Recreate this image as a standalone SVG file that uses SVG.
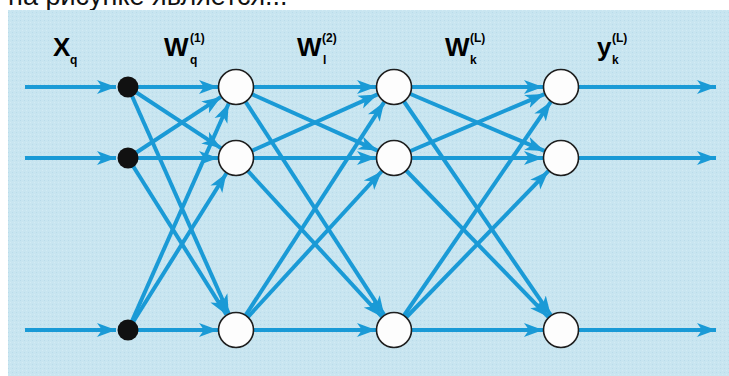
<svg xmlns="http://www.w3.org/2000/svg" width="729" height="376" viewBox="0 0 729 376">
  <style>
    .edge { stroke: #1a9ad6; stroke-width: 4; fill: none; marker-end: url(#head); }
    .neuron { fill: #fdfdfd; stroke: #1e1e1e; stroke-width: 1.6; }
    .input { fill: #111111; }
    .lbl { font-family: "Liberation Sans", Arial, sans-serif; font-weight: bold; fill: #000; }
    .big { font-size: 26px; }
    .small { font-size: 12px; }
    .caption { font-family: "Liberation Sans", Arial, sans-serif; font-size: 27px; fill: #111; }
  </style>
  <defs>
    <marker id="head" markerUnits="userSpaceOnUse" markerWidth="20" markerHeight="16" refX="19" refY="8" orient="auto">
      <path d="M0,1 L19,8 L0,15 L5,8 Z" fill="#1a9ad6"/>
    </marker>
    <pattern id="grain" width="4" height="4" patternUnits="userSpaceOnUse">
      <rect width="4" height="4" fill="#c8e5f0"/>
      <rect x="0" y="0" width="1" height="1" fill="#b9dbea"/>
      <rect x="2" y="2" width="1" height="1" fill="#d3ebf4"/>
    </pattern>
  </defs>

  <rect width="729" height="376" fill="#ffffff"/>
  <text class="caption" x="8" y="5">на рисунке является...</text>
  <rect x="8" y="10" width="721" height="366" fill="url(#grain)"/>

  <!-- layer labels -->
  <g id="labels">
    <text class="lbl big" x="53" y="56">X</text>
    <text class="lbl small" x="70" y="64">q</text>

    <text class="lbl big" x="164" y="56">W</text>
    <text class="lbl small" x="190" y="42">(1)</text>
    <text class="lbl small" x="190" y="64">q</text>

    <text class="lbl big" x="297" y="56">W</text>
    <text class="lbl small" x="322" y="42">(2)</text>
    <text class="lbl small" x="323" y="64">l</text>

    <text class="lbl big" x="445" y="56">W</text>
    <text class="lbl small" x="470" y="42">(L)</text>
    <text class="lbl small" x="470" y="64">k</text>

    <text class="lbl big" x="597" y="56">y</text>
    <text class="lbl small" x="612" y="42">(L)</text>
    <text class="lbl small" x="612" y="64">k</text>
  </g>

  <g id="connectors">
    <!-- external inputs -->
    <line class="edge" x1="25" y1="87" x2="116" y2="87"/>
    <line class="edge" x1="25" y1="158" x2="116" y2="158"/>
    <line class="edge" x1="25" y1="330" x2="116" y2="330"/>

    <!-- inputs to layer 1 -->
    <line class="edge" x1="128" y1="87" x2="218" y2="87"/>
    <line class="edge" x1="128" y1="87" x2="220.96" y2="148.11"/>
    <line class="edge" x1="128" y1="87" x2="228.69" y2="313.55"/>
    <line class="edge" x1="128" y1="158" x2="220.96" y2="96.89"/>
    <line class="edge" x1="128" y1="158" x2="218" y2="158"/>
    <line class="edge" x1="128" y1="158" x2="226.43" y2="314.76"/>
    <line class="edge" x1="128" y1="330" x2="228.69" y2="103.45"/>
    <line class="edge" x1="128" y1="330" x2="226.43" y2="173.24"/>
    <line class="edge" x1="128" y1="330" x2="218" y2="330"/>

    <!-- layer 1 to layer 2 -->
    <line class="edge" x1="236" y1="87" x2="376" y2="87"/>
    <line class="edge" x1="236" y1="87" x2="377.58" y2="150.62"/>
    <line class="edge" x1="236" y1="87" x2="384.19" y2="314.91"/>
    <line class="edge" x1="236" y1="158" x2="377.58" y2="94.38"/>
    <line class="edge" x1="236" y1="158" x2="376" y2="158"/>
    <line class="edge" x1="236" y1="158" x2="381.82" y2="316.74"/>
    <line class="edge" x1="236" y1="330" x2="384.19" y2="102.09"/>
    <line class="edge" x1="236" y1="330" x2="381.82" y2="171.26"/>
    <line class="edge" x1="236" y1="330" x2="376" y2="330"/>

    <!-- layer 2 to layer 3 -->
    <line class="edge" x1="394" y1="87" x2="543" y2="87"/>
    <line class="edge" x1="394" y1="87" x2="544.44" y2="150.96"/>
    <line class="edge" x1="394" y1="87" x2="550.81" y2="315.17"/>
    <line class="edge" x1="394" y1="158" x2="544.44" y2="94.04"/>
    <line class="edge" x1="394" y1="158" x2="543" y2="158"/>
    <line class="edge" x1="394" y1="158" x2="548.46" y2="317.09"/>
    <line class="edge" x1="394" y1="330" x2="550.81" y2="101.83"/>
    <line class="edge" x1="394" y1="330" x2="548.46" y2="170.91"/>
    <line class="edge" x1="394" y1="330" x2="543" y2="330"/>

    <!-- outputs -->
    <line class="edge" x1="561" y1="87" x2="716" y2="87"/>
    <line class="edge" x1="561" y1="158" x2="716" y2="158"/>
    <line class="edge" x1="561" y1="330" x2="716" y2="330"/>
  </g>

  <!-- input distribution points -->
  <g id="in1"><circle class="input" cx="128" cy="87" r="10.5"/></g>
  <g id="in2"><circle class="input" cx="128" cy="158" r="10.5"/></g>
  <g id="in3"><circle class="input" cx="128" cy="330" r="10.5"/></g>

  <!-- layer 1 -->
  <g id="a1"><circle class="neuron" cx="236" cy="87" r="17.5"/></g>
  <g id="a2"><circle class="neuron" cx="236" cy="158" r="17.5"/></g>
  <g id="a3"><circle class="neuron" cx="236" cy="330" r="17.5"/></g>

  <!-- layer 2 -->
  <g id="b1"><circle class="neuron" cx="394" cy="87" r="17.5"/></g>
  <g id="b2"><circle class="neuron" cx="394" cy="158" r="17.5"/></g>
  <g id="b3"><circle class="neuron" cx="394" cy="330" r="17.5"/></g>

  <!-- layer 3 -->
  <g id="c1"><circle class="neuron" cx="561" cy="87" r="17.5"/></g>
  <g id="c2"><circle class="neuron" cx="561" cy="158" r="17.5"/></g>
  <g id="c3"><circle class="neuron" cx="561" cy="330" r="17.5"/></g>
</svg>
